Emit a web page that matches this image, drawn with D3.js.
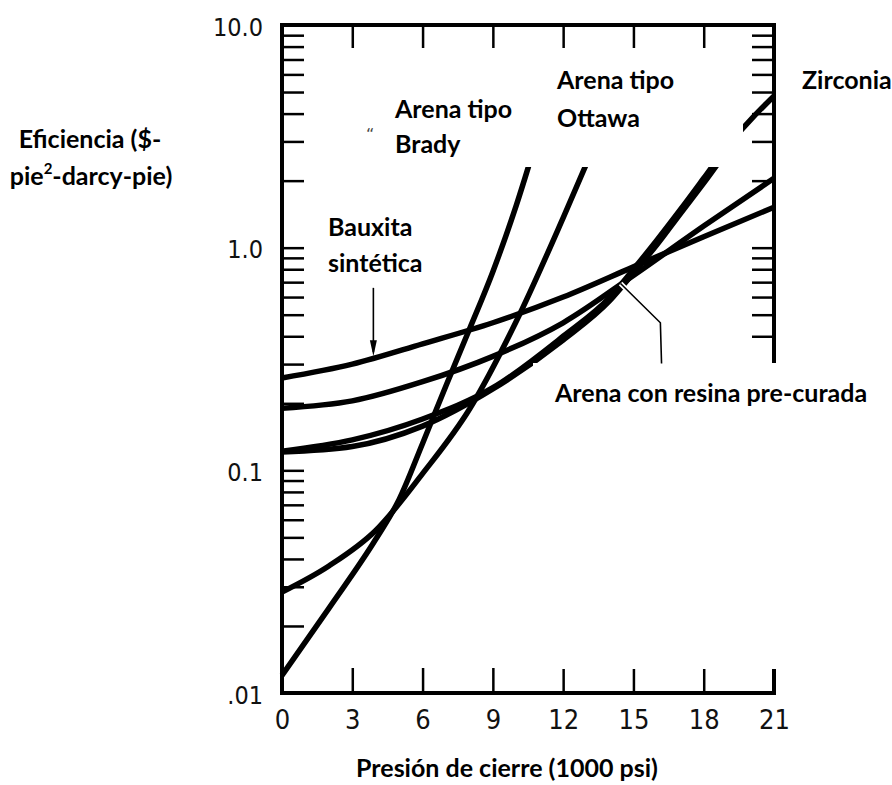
<!DOCTYPE html>
<html>
<head>
<meta charset="utf-8">
<script src="https://cdn.jsdelivr.net/npm/d3@7"></script>
<style>
  body { margin: 0; background: #fff; }
  svg { display: block; }
  .lbl { font-family: Lato, "Open Sans", sans-serif; font-weight: 700; font-size: 25px; fill: #000; }
  .num { font-family: "Liberation Sans Narrow", "DejaVu Sans Condensed", sans-serif; fill: #111; }
</style>
</head>
<body>
<script>
// x ticks and labels (1000 psi)
const xTicks = [0, 3, 6, 9, 12, 15, 18, 21];
const yLabelValues = [0.01, 0.1, 1, 10];
const yLabelText = [".01", "0.1", "1.0", "10.0"];

// curves (efficiency vs closure pressure)
const presion = [0, 3, 6, 9, 12, 15, 18, 21];
const bauxita = [0.26, 0.30, 0.37, 0.46, 0.60, 0.82, 1.12, 1.52];
const intermedia = [0.19, 0.205, 0.25, 0.325, 0.46, 0.75, 1.25, 2.05];

const presionZr = [0, 3, 6, 9, 12, 14, 15, 16, 17, 18, 19, 20, 21];
const zirconia = [0.122, 0.137, 0.17, 0.235, 0.40, 0.60, 0.80, 1.08, 1.48, 2.05, 2.85, 3.75, 4.8];

const presionRes = [0, 3, 6, 9, 12, 14, 15, 16, 17, 18, 19, 19.3];
const resina = [0.121, 0.128, 0.158, 0.232, 0.385, 0.58, 0.77, 1.03, 1.42, 1.95, 2.7, 2.95];

const presionBr = [0, 2, 4, 5, 6, 7, 8, 9, 10, 11.2];
const brady = [0.012, 0.024, 0.049, 0.074, 0.132, 0.24, 0.43, 0.78, 1.55, 4.0];

const presionOt = [0, 2, 4, 6, 8, 10, 12, 13.5];
const ottawa = [0.0284, 0.0372, 0.0537, 0.0966, 0.188, 0.467, 1.36, 3.16];

const W = 892, H = 785;
const svg = d3.select("body").append("svg").attr("width", W).attr("height", H);
svg.append("rect").attr("width", W).attr("height", H).attr("fill", "#fff");

const x = d3.scaleLinear().domain([0, 21]).range([282, 774]);
const y = d3.scaleLog().domain([0.01, 10]).range([693, 25]);

const minor = y.ticks().filter(v => v > 0.0101 && v < 9.99);
const innerX = xTicks.slice(1, -1);

// tick marks, all pointing inward
function ticksOnly(g) {
  g.select(".domain").remove();
  g.selectAll(".tick line").attr("stroke", "#000").attr("stroke-width", 2.5);
}
svg.append("g").attr("transform", "translate(" + x(0) + ",0)")
  .call(d3.axisRight(y).tickValues(minor).tickSize(22).tickFormat(""))
  .call(ticksOnly);
svg.append("g").attr("transform", "translate(" + x(21) + ",0)")
  .call(d3.axisLeft(y).tickValues(minor).tickSize(22).tickFormat(""))
  .call(ticksOnly);
svg.append("g").attr("transform", "translate(0," + y(0.01) + ")")
  .call(d3.axisTop(x).tickValues(innerX).tickSize(25).tickFormat(""))
  .call(ticksOnly);
svg.append("g").attr("transform", "translate(0," + y(10) + ")")
  .call(d3.axisBottom(x).tickValues(innerX).tickSize(23).tickFormat(""))
  .call(ticksOnly);

// frame
svg.append("rect")
  .attr("x", x(0)).attr("y", y(10))
  .attr("width", x(21) - x(0)).attr("height", y(0.01) - y(10))
  .attr("fill", "none").attr("stroke", "#000").attr("stroke-width", 4);

// curves
const line = d3.line()
  .x(d => x(d[0]))
  .y(d => y(d[1]))
  .curve(d3.curveMonotoneX);

const series = [
  [presion, bauxita],
  [presion, intermedia],
  [presionZr, zirconia],
  [presionRes, resina],
  [presionBr, brady],
  [presionOt, ottawa]
];
series.forEach(function(s) {
  svg.append("path")
    .datum(s[0].map((p, i) => [p, s[1][i]]))
    .attr("d", line)
    .attr("fill", "none")
    .attr("stroke", "#000")
    .attr("stroke-width", 5.5);
});

// white label backgrounds pasted over the figure
svg.append("rect").attr("x", 360).attr("y", 50).attr("width", 383).attr("height", 117).attr("fill", "#fff");
svg.append("rect").attr("x", 533).attr("y", 363).attr("width", 359).attr("height", 306).attr("fill", "#fff");

// arrow to Bauxita
svg.append("line")
  .attr("x1", x(3.9)).attr("x2", x(3.9))
  .attr("y1", y(0.66)).attr("y2", y(0.34))
  .attr("stroke", "#000").attr("stroke-width", 1.6);
svg.append("path")
  .attr("d", "M" + (x(3.9) - 3.5) + "," + (y(0.325) - 16) + "L" + x(3.9) + "," + y(0.325) + "L" + (x(3.9) + 3.5) + "," + (y(0.325) - 16) + "Z")
  .attr("fill", "#000");

// pointer to resin sand
const ptr = [[14.45, 0.69], [16.15, 0.46], [16.2, 0.302]];
const ptrLine = d3.line().x(d => x(d[0])).y(d => y(d[1]));
svg.append("path").attr("d", ptrLine(ptr.slice(0, 2))).attr("fill", "none")
  .attr("stroke", "#fff").attr("stroke-width", 5);
svg.append("path").attr("d", ptrLine(ptr)).attr("fill", "none")
  .attr("stroke", "#000").attr("stroke-width", 1.6);

// text labels
function label(txt, px, py, anchor) {
  return svg.append("text").attr("class", "lbl")
    .attr("x", px).attr("y", py)
    .attr("text-anchor", anchor || "start")
    .text(txt);
}
label("Arena tipo", 395, 118);
label("Brady", 395, 153);
label("Arena tipo", 557, 89);
label("Ottawa", 557, 127);
label("Zirconia", 802, 89);
label("Bauxita", 328, 236);
label("sintética", 328, 272);
label("Arena con resina pre-curada", 555, 402);
label("Presión de cierre (1000 psi)", 507, 777, "middle");
svg.append("text").attr("x", 366).attr("y", 140)
  .attr("font-family", "DejaVu Sans").attr("font-size", 16).attr("fill", "#444").text("\u201C");

label("Eficiencia ($-", 90, 148, "middle");
const t2 = svg.append("text").attr("class", "lbl").attr("x", 91).attr("y", 185).attr("text-anchor", "middle");
t2.append("tspan").text("pie");
t2.append("tspan").attr("dy", -11).attr("font-size", 15).text("2");
t2.append("tspan").attr("dy", 11).text("-darcy-pie)");

// numeric tick labels
svg.append("g").attr("transform", "translate(0," + y(0.01) + ")")
  .call(d3.axisBottom(x).tickValues(xTicks).tickSize(0).tickPadding(17).tickFormat(d => String(d)))
  .call(g => g.select(".domain").remove())
  .selectAll("text").attr("class", "num").attr("font-size", 27);
svg.append("g").attr("transform", "translate(" + (x(0) - 0) + ",2)")
  .call(d3.axisLeft(y).tickValues(yLabelValues).tickSize(0).tickPadding(19)
    .tickFormat(d => yLabelText[yLabelValues.indexOf(d)]))
  .call(g => g.select(".domain").remove())
  .selectAll("text").attr("class", "num").attr("font-size", 25);
</script>
</body>
</html>
